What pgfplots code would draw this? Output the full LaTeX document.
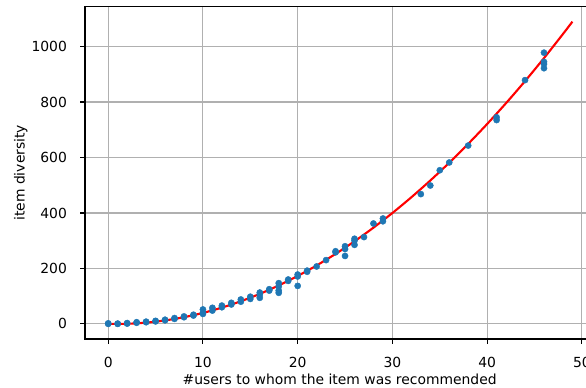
\documentclass[border=0pt]{standalone}
\usepackage{fontspec}
\setmainfont{DejaVu Sans}
\usepackage{pgfplots}
\pgfplotsset{compat=1.18}
\definecolor{mplblue}{HTML}{1F77B4}
\definecolor{gridgray}{HTML}{B0B0B0}
\begin{document}
\begin{tikzpicture}
\begin{axis}[
  at={(0,0)}, anchor=south west,
  scale only axis, width=510.6bp, height=332.5bp,
  xmin=-2.45, xmax=51.45, ymin=-54.5, ymax=1144.5,
  xtick={0,10,...,50}, ytick={0,200,...,1000},
  grid=major, major grid style={gridgray, line width=1.1bp},
  axis line style={line width=1.1bp, black},
  tick style={line width=1.1bp, black},
  tick align=outside, major tick length=4.9bp,
  xtick pos=left, ytick pos=left,
  /pgf/number format/assume math mode=true,
  /pgf/number format/1000 sep={},
  tick label style={font=\fontsize{13.9bp}{16bp}\selectfont, inner sep=0pt},
  xticklabel style={anchor=north, yshift=-13bp},
  yticklabel style={anchor=east, xshift=-13bp},
  label style={font=\fontsize{13.9bp}{16bp}\selectfont, inner sep=0pt},
  xlabel={\#users to whom the item was recommended},
  ylabel={item diversity},
  xlabel style={at={(axis description cs:0.4988,-0.1383)}, anchor=base},
  ylabel style={at={(axis description cs:-0.1181,0.5)}, anchor=base},
]
\addplot[only marks, mark=*, mark size=3.1bp, mplblue, mark options={draw=mplblue, fill=mplblue}] coordinates {
(0,0) (0,2) (1,0) (1,1) (2,1) (2,3) (3,4) (3,6) (4,6) (4,8)
(5,9) (5,11) (6,13) (6,15) (7,18) (7,21) (8,24) (8,27) (9,30) (9,33)
(10,36) (10,40) (10,52) (11,48) (11,58) (12,60) (12,66) (13,70) (13,76)
(14,80) (14,88) (15,90) (15,98) (16,94) (16,105) (16,113) (17,120) (17,125)
(18,112) (18,120) (18,135) (18,147) (19,155) (19,160) (20,137) (20,171) (20,178)
(21,188) (21,192) (22,207) (23,230) (24,258) (24,262) (25,245) (25,270) (25,280)
(26,285) (26,300) (26,307) (27,313) (28,362) (29,370) (29,380)
(33,468) (34,499) (35,554) (36,582) (38,643) (41,735) (41,745) (44,879)
(46,922) (46,937) (46,945) (46,978)
};
\addplot[red, line width=2.1bp, smooth, no marks] coordinates {
(0,0) (2,0.4) (4,4.5) (6,12.4) (8,24.1) (10,39.5) (12,58.7) (14,81.6)
(16,108.2) (18,138.6) (20,172.8) (22,210.7) (24,252.4) (26,297.8) (28,347.0)
(30,399.9) (32,456.6) (34,517.0) (36,581.2) (38,649.1) (40,720.8) (42,796.2)
(44,875.4) (46,958.4) (48,1045.1) (49,1089.8)
};
\end{axis}
\pgfresetboundingbox
\useasboundingbox (-85bp,-49bp) rectangle (501bp,339bp);
\end{tikzpicture}
\end{document}
